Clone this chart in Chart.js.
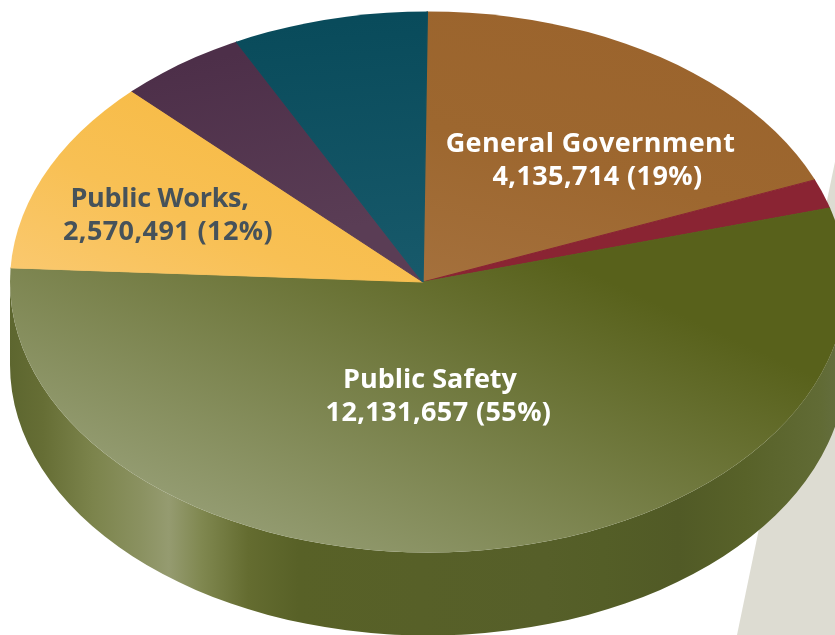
<!DOCTYPE html>
<html lang="en">
<head>
    <meta charset="UTF-8">
    <title>Expenditures by Function</title>
    <script src="https://cdn.jsdelivr.net/npm/chart.js"></script>
    <style>
        html, body { margin: 0; padding: 0; background: #fff; overflow: hidden; }
        canvas { display: block; }
    </style>
</head>
<body>
<canvas id="pie" width="835" height="635"></canvas>
<script>
// slices, clockwise from the top
const categories = ["General Government", "Culture and Recreation", "Public Safety", "Public Works", "Health and Welfare", "Debt Service"];
const amounts = [4135714, 379000, 12131657, 2570491, 1100000, 1684000];
const labelled = [0, 2, 3];
const labelNames = ["General Government", "Public Safety", "Public Works,"];

// outline of the flattened disc on the page
const disc = { x: 428, y: 282, rx: 418, ry: 270.5, depth: 83 };
// the slices meet a little left of the outline's centre (perspective), so the pie
// is drawn oversized around this hub and cut back to the outline
const hub = { x: 423, y: 282, rx: 440, ry: 288 };
const startRotation = 0.6;
const total = amounts.reduce((a, b) => a + b, 0);

// gradients are given in page pixels, the arcs are drawn in chart space
function faceGradient(chart, x0, y0, x1, y1, stops) {
    const cx = chart.width / 2, cy = chart.height / 2, r = Math.min(cx, cy);
    const px = x => cx + (x - hub.x) * r / hub.rx;
    const py = y => cy + (y - hub.y) * r / hub.ry;
    const g = chart.ctx.createLinearGradient(px(x0), py(y0), px(x1), py(y1));
    stops.forEach((c, i) => g.addColorStop(i / (stops.length - 1), c));
    return g;
}

const faceFills = [
    c => faceGradient(c, 600, 20, 440, 280, ["#9b642d", "#9d672f", "#a4703c"]),
    c => "#8a2433",
    c => faceGradient(c, 190, 560, 530, 245, ["#9ba37c", "#58611b"]),
    c => faceGradient(c, 260, 110, 60, 300, ["#f7bb45", "#f8c054", "#fac970"]),
    c => faceGradient(c, 250, 50, 340, 230, ["#4d2f49", "#5a3d55"]),
    c => faceGradient(c, 360, 20, 410, 270, ["#094b5b", "#17596a"])
];

// colours of the rim, left to right across the page
const rimStops = [
    [0.000, "#5d662f"], [0.040, "#666e35"], [0.100, "#7c844c"], [0.155, "#8a9160"], [0.190, "#959b70"],
    [0.230, "#7f874f"], [0.285, "#646c30"], [0.345, "#586127"], [0.640, "#565f29"], [0.710, "#545e27"],
    [0.800, "#515a26"], [0.880, "#586229"], [0.970, "#616b35"], [1.000, "#656f42"]
];

const backdrop = {
    id: "backdrop",
    beforeDraw(chart) {
        const ctx = chart.ctx;
        ctx.save();
        ctx.fillStyle = "#dddcd2";
        ctx.beginPath();
        ctx.moveTo(737, 635);
        ctx.lineTo(836, 157);
        ctx.lineTo(836, 635);
        ctx.closePath();
        ctx.fill();
        ctx.restore();
    }
};

const tiltedDisc = {
    id: "tiltedDisc",
    beforeDatasetsDraw(chart) {
        const ctx = chart.ctx;
        const arcs = chart.getDatasetMeta(0).data;
        ctx.save();

        // the rim: only what faces the viewer, so the lower half of the ellipse
        arcs.forEach(arc => {
            const a0 = Math.max(arc.startAngle, 0);
            const a1 = Math.min(arc.endAngle, Math.PI);
            if (a1 <= a0) return;
            const g = ctx.createLinearGradient(disc.x - disc.rx, 0, disc.x + disc.rx, 0);
            rimStops.forEach(s => g.addColorStop(s[0], s[1]));
            ctx.fillStyle = g;
            ctx.beginPath();
            ctx.ellipse(disc.x, disc.y, disc.rx, disc.ry, 0, a0, a1);
            ctx.ellipse(disc.x, disc.y + disc.depth, disc.rx, disc.ry, 0, a1, a0, true);
            ctx.closePath();
            ctx.fill();
        });

        ctx.beginPath();
        ctx.ellipse(disc.x, disc.y, disc.rx, disc.ry, 0, 0, Math.PI * 2);
        ctx.clip();

        // squash the pie while the arcs are drawn
        const first = arcs[0];
        ctx.translate(hub.x, hub.y);
        ctx.scale(hub.rx / first.outerRadius, hub.ry / first.outerRadius);
        ctx.translate(-first.x, -first.y);
    },
    afterDatasetsDraw(chart) {
        chart.ctx.restore();
    }
};

const sliceLabels = {
    id: "sliceLabels",
    afterDraw(chart) {
        const ctx = chart.ctx;
        const spots = [
            { x1: 590.5, x2: 597.5, y: 152, color: "#ffffff", sp1: 0.4 },
            { x1: 430, x2: 438.5, y: 388, color: "#ffffff", sp1: 0 },
            { x1: 159.5, x2: 168, y: 207, color: "#46525a", sp1: -0.3 }
        ];
        ctx.save();
        ctx.font = "bold 27px 'Open Sans', sans-serif";
        ctx.textAlign = "center";
        labelled.forEach((idx, i) => {
            const s = spots[i];
            const pct = Math.round(amounts[idx] / total * 100);
            ctx.fillStyle = s.color;
            ctx.letterSpacing = s.sp1 + "px";
            ctx.fillText(labelNames[i], s.x1, s.y);
            ctx.letterSpacing = "0.4px";
            ctx.fillText(amounts[idx].toLocaleString("en-US") + " (" + pct + "%)", s.x2, s.y + 33);
        });
        ctx.restore();
    }
};

new Chart(document.getElementById("pie"), {
    type: "pie",
    data: {
        labels: categories,
        datasets: [{
            data: amounts,
            backgroundColor: ctx => faceFills[ctx.dataIndex](ctx.chart),
            borderColor: ctx => faceFills[ctx.dataIndex](ctx.chart),
            borderWidth: 1,
            clip: false
        }]
    },
    options: {
        responsive: false,
        animation: false,
        rotation: startRotation,
        events: [],
        layout: { padding: 0 },
        plugins: { legend: { display: false }, tooltip: { enabled: false } }
    },
    plugins: [backdrop, tiltedDisc, sliceLabels]
});
</script>
</body>
</html>
